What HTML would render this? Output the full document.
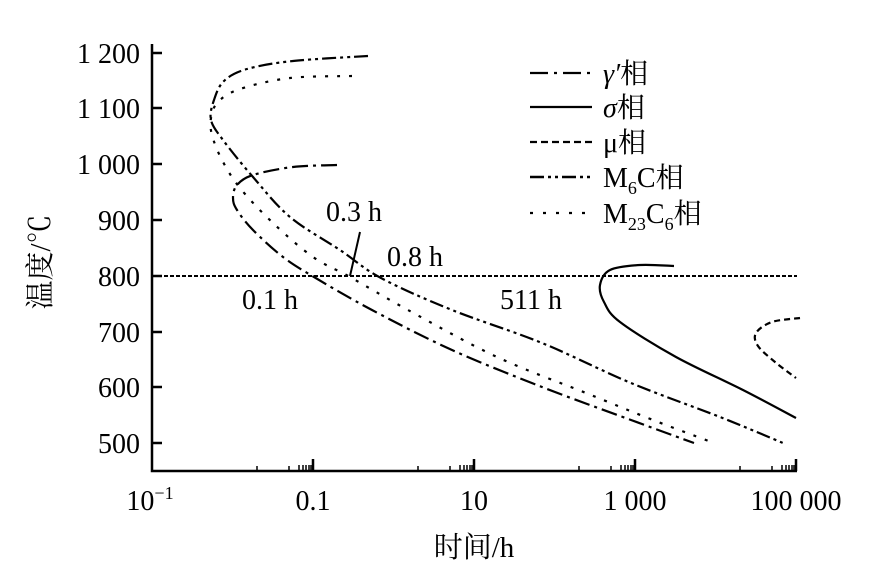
<!DOCTYPE html><html><head><meta charset="utf-8"><style>body{margin:0;background:#fff}svg{display:block}text{font-family:"Liberation Serif","Noto Serif CJK SC",serif;fill:#000}</style></head><body>
<svg id="s" width="869" height="580" viewBox="0 0 869 580" xmlns="http://www.w3.org/2000/svg">
<g stroke="#000" fill="none" stroke-width="2.5">
<path d="M152,44V471H797"/>
<path d="M152,53h10M152,108h10M152,164h10M152,220h10M152,276h10M152,332h10M152,387h10M152,443h10"/>
<path d="M313,471v-12M474,471v-12M635,471v-12M796,471v-12" />
<g stroke-width="1.5">
<path d="M257,471v-5M289,471v-5M299,471v-6M303,471v-6M306,471v-6M309,471v-6M311,471v-6M418,471v-5M450,471v-5M460,471v-6M464,471v-6M467,471v-6M470,471v-6M472,471v-6M579,471v-5M611,471v-5M621,471v-6M625,471v-6M628,471v-6M631,471v-6M633,471v-6M740,471v-5M772,471v-5M782,471v-6M786,471v-6M789,471v-6M792,471v-6M794,471v-6"/>
</g>
<path d="M152,276H797" stroke-width="2" stroke-dasharray="4,2"/>
<path d="M360,232L350,276" stroke-width="2"/>
<path id="g" stroke-width="2.2" stroke-dasharray="16,5,3,5"/>
<path id="m23" stroke-width="2.2" stroke-dasharray="3,9"/>
<path id="m6" stroke-width="2.2" stroke-dasharray="14,4,3,4,3,4"/>
<path id="sg" stroke-width="2.2"/>
<path id="mu" stroke-width="2.2" stroke-dasharray="6,4"/>
<path d="M530,73h62" stroke-width="2.2" stroke-dasharray="18,6,3,6"/>
<path d="M530,107h62" stroke-width="2.2"/>
<path d="M530,142h62" stroke-width="2.2" stroke-dasharray="7,4"/>
<path d="M530,177h62" stroke-width="2.5" stroke-dasharray="14,4,3,4,3,4"/>
<path d="M530,213h62" stroke-width="2.2" stroke-dasharray="3,10"/>
</g>
<g font-size="28" text-anchor="end">
<text x="140" y="63">1 200</text><text x="140" y="118">1 100</text><text x="140" y="174">1 000</text><text x="140" y="230">900</text><text x="140" y="286">800</text><text x="140" y="342">700</text><text x="140" y="397">600</text><text x="140" y="453">500</text>
</g>
<g font-size="28" text-anchor="middle">
<text x="150" y="510">10<tspan font-size="18" dy="-11">−1</tspan></text>
<text x="313" y="510">0.1</text><text x="474" y="510">10</text><text x="635" y="510">1 000</text><text x="796" y="510">100 000</text>
<text x="474" y="557" font-size="29">时间/h</text>
</g>
<text transform="translate(50,262) rotate(-90)" font-size="29" text-anchor="middle">温度/℃</text>
<g font-size="28">
<text x="326" y="221">0.3 h</text><text x="387" y="266">0.8 h</text><text x="242" y="309">0.1 h</text><text x="500" y="309">511 h</text>
<text x="603" y="83"><tspan font-style="italic">γ′</tspan>相</text>
<text x="603" y="117"><tspan font-style="italic">σ</tspan>相</text>
<text x="603" y="152">μ相</text>
<text x="603" y="187">M<tspan font-size="18" dy="7">6</tspan><tspan dy="-7">C相</tspan></text>
<text x="603" y="223">M<tspan font-size="18" dy="7">23</tspan><tspan dy="-7">C</tspan><tspan font-size="18" dy="7">6</tspan><tspan dy="-7">相</tspan></text>
</g>
</svg>
<script>
function cr(p){var d="M"+p[0][0]+","+p[0][1];for(var i=0;i<p.length-1;i++){var a=p[i-1]||p[i],b=p[i],c=p[i+1],e=p[i+2]||c;d+="C"+(b[0]+(c[0]-a[0])/6)+","+(b[1]+(c[1]-a[1])/6)+" "+(c[0]-(e[0]-b[0])/6)+","+(c[1]-(e[1]-b[1])/6)+" "+c[0]+","+c[1];}return d;}
var P={
g:[[337,165],[293,167],[253,175],[237,185],[233,198],[237,210],[253,230],[283,257],[314,277],[372,310],[452,350],[542,387],[631,420],[694,443]],
m23:[[352,76],[290,78],[240,89],[218,102],[211,118],[212,135],[222,160],[240,188],[273,223],[313,257],[350,277],[408,310],[497,357],[586,393],[653,420],[714,443]],
m6:[[368,56],[293,61],[247,69],[224,81],[214,100],[211,120],[223,140],[253,177],[290,217],[340,250],[381,278],[452,310],[542,343],[631,383],[720,417],[783,443]],
sg:[[674,266],[640,265],[610,270],[600,285],[604,302],[620,322],[676,357],[743,390],[796,418]],
mu:[[800,318],[772,322],[756,333],[758,346],[775,362],[796,378]]};
for(var k in P)document.getElementById(k).setAttribute("d",cr(P[k]));
</script>
</body></html>
